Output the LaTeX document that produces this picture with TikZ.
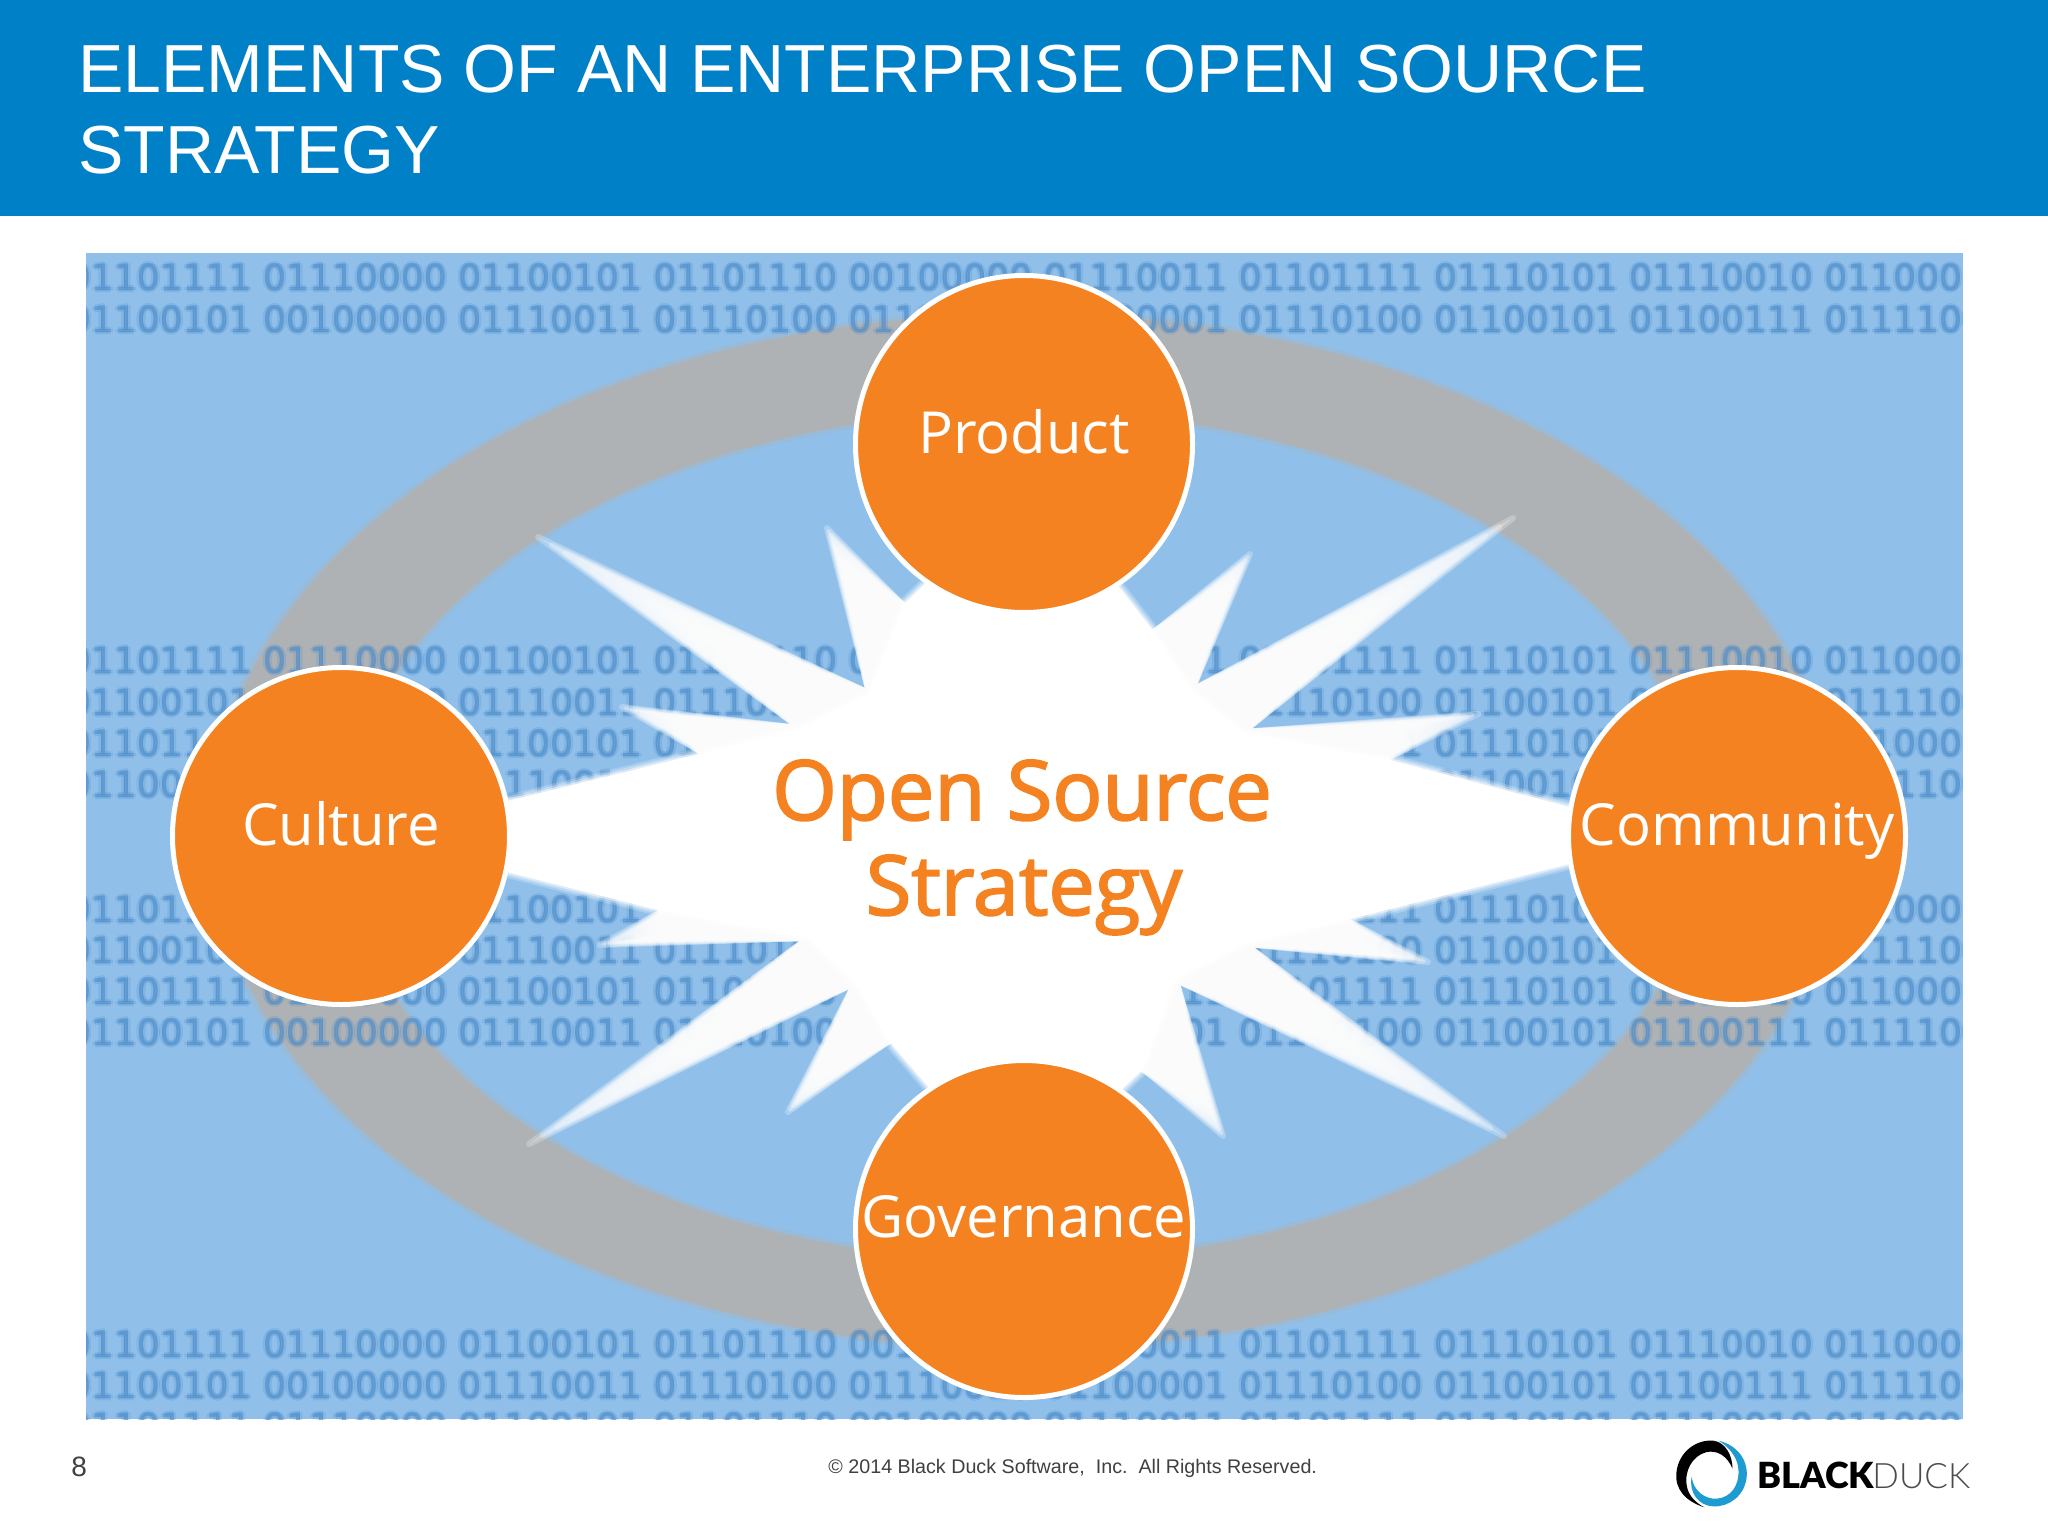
\documentclass[tikz,border=0pt]{standalone}
\usepackage{fontspec}
\usetikzlibrary{calc}
\setmainfont{Liberation Sans}
\newfontfamily\labelfont{Open Sans}
\newfontfamily\hubfont[FakeBold=2.2]{Open Sans}
\newfontfamily\binfont[FakeBold=0.8]{DejaVu Sans}
\newfontfamily\logoblack{Lato Black}
\newfontfamily\logolight{Lato Light}
\definecolor{barblue}{HTML}{0080C6}
\definecolor{panelblue}{HTML}{90C0EA}
\definecolor{binblue}{HTML}{4A8BC9}
\definecolor{ringgray}{HTML}{AEB2B5}
\definecolor{duckorange}{HTML}{F58220}
\definecolor{logoblue}{HTML}{1E9BD1}
\definecolor{footgray}{HTML}{404040}
\tikzset{
  petal/.style={circle,draw=white,line width=2.5pt,fill=duckorange,minimum size=168.5pt,inner sep=0pt},
  petaltext/.style={anchor=base,text=white,font=\labelfont\fontsize{29}{29}\selectfont,inner sep=0pt},
  hubtext/.style={anchor=base,text=duckorange,font=\hubfont\fontsize{41.5}{41.5}\selectfont,inner sep=0pt},
  bintext/.style={anchor=base west,text=binblue,font=\binfont\fontsize{18.05}{18.05}\selectfont,inner sep=0pt},
  titletext/.style={anchor=base west,text=white,font=\fontsize{34}{34}\selectfont,inner sep=0pt}
}
\newcommand{\rowA}{01101111 01110000 01100101 01101110 00100000 01110011 01101111 01110101 01110010 01100011}
\newcommand{\rowB}{01100101 00100000 01110011 01110100 01110010 01100001 01110100 01100101 01100111 01111001}
\newcommand{\binrow}[2]{%
  \node[bintext,text opacity=.2] at (65,#1) {#2};
  \node[bintext,text opacity=.2] at (70,#1) {#2};
  \node[bintext,text opacity=.2] at (67.5,#1-2) {#2};
  \node[bintext,text opacity=.2] at (67.5,#1+2) {#2};
  \node[bintext,text opacity=.4] (bin#1) at (67.5,#1) {#2};
}
% spike: notch, tip, notch, fraction at which it becomes solid
\newcommand{\spike}[4]{%
  \foreach \k in {0,...,15}{%
    \pgfmathsetmacro{\f}{#4+(1-#4)*\k/15}%
    \fill[white,opacity=.24,draw=white,line width=3pt,line join=round]
      (#1) -- ($($(#1)!.5!(#3)$)!\f!(#2)$) -- (#3) -- cycle;
  }%
}
\newcommand{\corepath}{(950,560) -- (903,605) -- (869,693) -- (800,728) -- (703,753) -- (365,836) -- (662,911) -- (808,938) -- (855,983) -- (889,1041) -- (950,1112) -- (1024,1150) -- (1098,1112) -- (1143,1069) -- (1176,980) -- (1245,944) -- (1346,920) -- (1680,836) -- (1386,759) -- (1243,732) -- (1192,690) -- (1154,632) -- (1098,560) -- (1024,520) -- cycle}
\begin{document}
\begin{tikzpicture}[x=0.5pt,y=-0.5pt]
\useasboundingbox (0,0) rectangle (2048,1536);
\fill[white] (0,0) rectangle (2048,1536);
% title bar
\fill[barblue] (0,0) rectangle (2048,216);
\node[titletext] (title1) at (78,92) {ELEMENTS OF AN ENTERPRISE OPEN SOURCE};
\node[titletext] (title2) at (78,173) {STRATEGY};
% panel
\begin{scope}
\clip (86,253) rectangle (1963,1419);
\fill[panelblue] (86,253) rectangle (1963,1419);
% ring
\fill[ringgray,opacity=.35,even odd rule] (1024,831) ellipse [x radius=817,y radius=521] (1024,836) ellipse [x radius=675,y radius=421];
\fill[ringgray,even odd rule] (1024,831) ellipse [x radius=812,y radius=517] (1024,836) ellipse [x radius=680,y radius=425];
% binary rows
\binrow{290}{\rowA}
\binrow{332}{\rowB}
\binrow{673}{\rowA}
\binrow{715}{\rowB}
\binrow{756}{\rowA}
\binrow{797}{\rowB}
\binrow{922}{\rowA}
\binrow{963}{\rowB}
\binrow{1004}{\rowA}
\binrow{1045}{\rowB}
\binrow{1357}{\rowA}
\binrow{1398}{\rowB}
\binrow{1439}{\rowA}
% starburst
\spike{903,605}{827,528}{869,693}{.5}
\spike{869,693}{538,537}{800,728}{.3}
\spike{800,728}{622,707}{703,753}{.4}
\spike{662,911}{600,945}{808,938}{.4}
\spike{808,938}{529,1144}{855,983}{.3}
\spike{855,983}{788,1112}{889,1041}{.5}
\spike{1143,1069}{1223,1136}{1176,980}{.5}
\spike{1176,980}{1504,1136}{1245,944}{.3}
\spike{1245,944}{1428,962}{1346,920}{.4}
\spike{1386,759}{1478,714}{1243,732}{.4}
\spike{1243,732}{1513,518}{1192,690}{.3}
\spike{1192,690}{1250,554}{1154,632}{.5}
\fill[white,opacity=.2,draw=white,line width=6pt,line join=round] \corepath;
\fill[white,opacity=.3,draw=white,line width=4pt,line join=round] \corepath;
\fill[white,opacity=.5,draw=white,line width=2pt,line join=round] \corepath;
\fill[white] \corepath;
\end{scope}
% circles
\node[petal] (product) at (1024,444) {};
\node[petal] (culture) at (341,836) {};
\node[petal] (community) at (1737,836) {};
\node[petal] (governance) at (1024,1229) {};
\node[petaltext] (lproduct) at (1024,453) {Product};
\node[petaltext] (lculture) at (341,845) {Culture};
\node[petaltext] (lcommunity) at (1737,845) {Community};
\node[petaltext] (lgovernance) at (1024,1237) {Governance};
\node[hubtext] (hub1) at (1022,820) {Open Source};
\node[hubtext] (hub2) at (1024,915) {Strategy};
% footer
\node[anchor=base west,inner sep=0pt,text=footgray,font=\fontsize{14}{14}\selectfont] (pageno) at (71,1476) {8};
\node[anchor=base west,inner sep=0pt,text=footgray,font=\fontsize{9.85}{9.85}\selectfont] (copy) at (828,1473) {© 2014 Black Duck Software,\ \ Inc.\ \ All Rights Reserved.};
% logo
\begin{scope}[shift={(1500,1377)},x=0.1748pt,y=-0.1748pt]
\fill[logoblue] (625,182) .. controls (680,195) and (712,240) .. (705,290) .. controls (698,340) and (655,372) .. (610,370) .. controls (570,368) and (540,335) .. (548,285) .. controls (553,325) and (585,350) .. (620,348) .. controls (660,345) and (685,310) .. (682,265) .. controls (680,230) and (655,200) .. (625,182) -- cycle;
\fill[black] (585,373) .. controls (530,355) and (498,320) .. (505,270) .. controls (512,215) and (560,178) .. (610,182) .. controls (645,186) and (665,225) .. (665,262) .. controls (650,225) and (620,208) .. (590,215) .. controls (550,225) and (525,270) .. (535,315) .. controls (540,340) and (560,360) .. (585,373) -- cycle;
\end{scope}
\node[anchor=base west,inner sep=0pt,text=black,font=\logoblack\fontsize{18}{18}\selectfont] (logoa) at (1757,1488) {BLACK};
\node[anchor=base west,inner sep=0pt,text=black!70,font=\logolight\fontsize{17.5}{17.5}\selectfont] (logob) at (1872,1488) {DUCK};
\end{tikzpicture}
\end{document}
